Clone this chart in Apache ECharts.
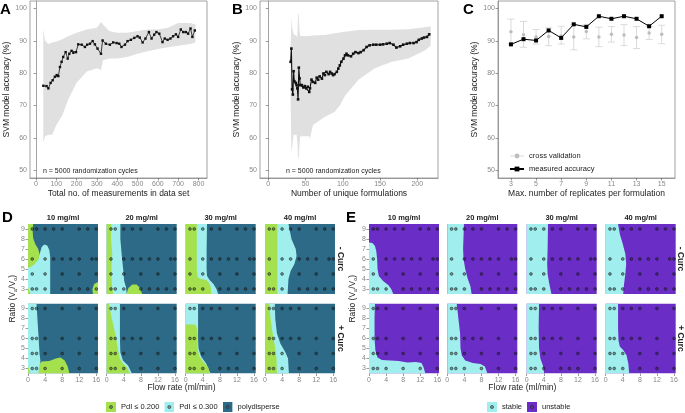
<!DOCTYPE html>
<html><head><meta charset="utf-8">
<script src="https://cdn.jsdelivr.net/npm/echarts@6/dist/echarts.min.js"></script>
<style>html,body{margin:0;padding:0;background:#fff}#c{width:685px;height:413px}</style>
</head><body><div id="c"></div>
<script>
// ---------- Panel A : accuracy vs total measurements ----------
const A_x = [36,52,61,72,82,93,102,110,118,126,134,146,156,164,175,184,197,208,225,241,252,266,279,290,303,320,328,344,364,380,397,410,421,438,451,467,484,500,511,525,539,556,569,582,593,607,623,634,648,662,675,689,700,713,725,738,749,761,770,782];
const A_y = [76.1,76,75.3,77,77.8,78.9,79.4,79.1,81.9,83.5,85,86.5,84.5,86,86.9,86.3,86.5,88.9,88.8,88.1,88.8,89.1,89.9,88.9,87.6,86,90.1,89.1,88.8,89.5,89.3,89.1,88.1,88.8,89.9,90.3,90.9,91.4,91,89.5,90.7,92.7,90.7,91.9,92.7,92.2,89.6,90.7,90.3,90.7,91.4,92,91.2,93.5,92.7,92.7,92.2,93.8,91.2,93.2];
const A_bandX  = [36,45,60,80,100,130,160,200,250,300,320,330,360,400,450,500,550,600,650,700,760,785];
const A_bandHi = [93.5,90,89,89.5,89.8,90.5,91.5,92.5,93.5,94,95.8,95,93,92.5,92.5,93,93.5,93.5,94,95.5,95.5,95];
const A_bandLo = [58.5,60.5,61,61,64,67,72,77,80.5,81.5,81,84,84.5,84.5,85,86,86.8,87.5,88,88.5,89,89.5];

// ---------- Panel B : accuracy vs unique formulations ----------
const B_x = [30,31,32,33,34,35,37,38,39,40,41,42,43,45,47,49,51,53,55,56,58,60,63,65,67,69,72,74,76,78,81,83,85,87,89,92,94,96,98,101,103,105,107,111,114,117,121,124,128,132,136,141,145,150,154,159,163,168,172,177,181,186,190,195,199,202,206,209,213,216];
const B_y = [83.5,87.6,75,73.4,80.6,77.5,77,76.3,75.3,71.9,81.7,78.4,76.3,76.3,75.6,76,75.3,75.8,74.2,75.3,78,77.3,77,78.6,78,79,78.3,79.9,79.4,80.4,79.7,80.4,79.9,79.4,79.7,80.4,81.4,82.4,83.5,84.5,85.5,86,85.5,85.2,86,86.5,86.2,86.5,87.1,88.1,88.6,88.8,88.8,88.8,88.9,89.1,89.3,88.8,87.9,88.3,88.8,89.1,89.3,89.3,89.6,90.3,90.7,91,91.2,92];
const B_bandX  = [30,31,32,34,38,39,40,41,42,43,50,55,56,57,60,76,89,96,103,121,143,166,188,210,218];
const B_bandHi = [88,97.2,94,92,91.5,91,98.5,98,93,91.5,91.5,91.5,91.6,91.5,91.6,91.8,92.3,92.6,92.8,93.3,93.4,93.4,93.6,94.2,94.5];
const B_bandLo = [72,56,57,61,61,59,53.5,54,58,60.5,60.5,60.5,59.5,61,64,66.5,68,70,73,78,81.5,83.5,84.5,87,88.5];

// ---------- Panel C : replicates ----------
const C_x        = [3,4,5,6,7,8,9,10,11,12,13,14,15];
const C_measured = [88.9,90.5,90.1,93.2,90.9,95.1,94.3,97.6,96.8,97.6,96.8,94.5,97.6];
const C_cv       = [92.8,91.9,91.2,91.3,91.5,91.2,92.9,91.2,92.0,91.8,91.0,92.4,92.0];
const C_cvLo     = [89.0,88.0,89.0,88.5,89.0,87.2,90.6,88.2,89.6,88.5,87.6,90.4,89.1];
const C_cvHi     = [96.7,96.0,93.5,94.0,94.5,95.0,95.0,94.2,94.4,95.0,94.4,94.4,94.8];
const C_ticks    = [3,5,7,9,11,13,15];

// ---------- Panels D / E ----------
const CONC = ['10 mg/ml','20 mg/ml','30 mg/ml','40 mg/ml'];
const CURC = ['- Curc','+ Curc'];
const FLOW_TICKS = [0,4,8,12,16];
const RATIO_TICKS = [3,4,5,6,7,8,9];
// measured formulations: [ratio, flow rates]
const DOTS_MINUS = [[9,[1,2,4,6,8,12,14,16]],[6,[1,4,6,8,10,12,15,16]],[4.5,[1,4,8,12,16]],[3,[1,2,4,8,10,12,14,16]]];
const DOTS_PLUS = [
  [[9,[1,2,4,8,12,16]],[6,[1,2,4,8,12,16]],[4.5,[1,2,4,8,12,16]],[3,[1,2,4,8,12,16]]],
  [[9,[1,2,4,8,12,16]],[6,[1,2,4,6,8,12,16]],[4.5,[1,2,4,8,12,16]],[3,[1,2,4,8,12,16]]],
  [[9,[1,2,4,6,8,12,16]],[6,[1,2,4,6,8,12,16]],[4.5,[1,2,4,8,12,16]],[3,[1,2,4,8,10,12,16]]],
  [[9,[1,2,4,6,8,12,16]],[6,[1,2,4,6,8,12,16]],[4.5,[1,2,4,8,12,16]],[3,[1,2,4,8,12,16]]]
];
// predicted regions (boundary outlines in flow rate / ratio units)
const D_MINUS_CYAN = [
  [[[0,2.5],[5.2,2.5],[5.2,6.2],[5.0,6.9],[4.5,7.35],[3.8,7.45],[3.2,7.2],[2.8,6.6],[2.3,6.0],[1.3,5.5],[0,5.3]]],
  [[[0,9.5],[3.2,9.5],[3.2,8],[3.5,6.5],[3.9,4.8],[4.1,3.8],[4.5,3.2],[4.7,2.5],[0,2.5]]],
  [[[0,9.5],[5.0,9.5],[4.9,7],[4.9,5],[5.0,4.3],[5.6,3.9],[6.5,3.5],[7.2,3.0],[7.6,2.5],[0,2.5]]],
  [[[0,9.5],[5.5,9.5],[6.2,8],[7.2,7],[7.4,6.3],[6.9,5.5],[6.0,4.8],[5.5,4],[5.3,2.5],[0,2.5]]]
];
const D_MINUS_GREEN = [
  [[[0,9.5],[1.2,9.5],[1.1,8.8],[1.2,8.1],[1.7,7.5],[2.4,7.0],[2.7,6.5],[2.5,6.0],[1.6,5.5],[0.6,5.2],[0,5.1]],
   [[15.2,2.5],[15.1,3.0],[15.5,3.5],[16.4,3.7],[16.4,2.5]],
   [[0,2.5],[0.6,2.5],[0,3.2]]],
  [[[0,9.5],[1.1,9.5],[1.0,8],[1.3,6.5],[1.1,5],[1.2,3.5],[1.5,2.5],[0,2.5]],
   [[4.6,2.5],[5.1,3.1],[6.0,3.45],[7.0,3.45],[7.8,3.1],[8.3,2.5]]],
  [[[0,9.5],[2.6,9.5],[2.6,5],[2.8,4.2],[3.5,4.0],[4.8,3.9],[5.5,3.6],[5.9,3.1],[6.0,2.5],[0,2.5]]],
  [[[0,9.5],[2.9,9.5],[2.9,2.5],[0,2.5]]]
];
const D_PLUS_CYAN = [
  [[[0,9.5],[2.0,9.5],[2.2,8],[2.5,6],[2.7,4.5],[2.9,3.8],[2.8,2.5],[0,2.5]]],
  [[[0,9.5],[3.1,9.5],[3.1,6],[3.2,4.6],[3.8,3.8],[5.0,3.3],[5.9,2.5],[0,2.5]]],
  [[[0,9.5],[2.9,9.5],[2.9,6],[3.0,5],[3.6,4.2],[4.8,3.5],[5.8,2.5],[0,2.5]]],
  [[[0,9.5],[2.3,9.5],[2.4,8],[2.8,6.5],[3.6,5.5],[4.8,4.6],[5.4,4.0],[5.6,2.5],[0,2.5]]]
];
const D_PLUS_GREEN = [
  [[[2.4,2.5],[2.7,3.4],[3.2,3.7],[5,3.75],[6.5,4.0],[7.6,4.1],[8.6,3.8],[9.3,3.2],[9.7,2.5]],
   [[0,2.5],[0.5,2.5],[0,3.3]]],
  [[[0,9.5],[0.5,9.5],[1.2,8],[2.0,6.5],[2.6,5],[3.0,4.1],[3.8,3.5],[4.8,3.1],[5.4,2.5],[0,2.5]]],
  [[[0,7.4],[2.2,7.4],[2.6,7.1],[2.8,6.5],[2.8,5],[3.2,4.2],[4.3,3.6],[5.3,3.1],[5.6,2.5],[0,2.5]]],
  [[[0,9.5],[1.0,9.5],[1.3,8],[1.8,6.5],[2.4,5],[2.7,4],[2.8,2.5],[0,2.5]]]
];
const E_MINUS_CYAN = [
  [[[0,7.65],[0.8,7.6],[1.4,7.3],[1.7,6.8],[1.9,6],[2.0,5],[2.3,4.3],[3.3,3.8],[4.5,3.4],[5.2,3.0],[5.7,2.5],[0,2.5]]],
  [[[0,9.5],[3.9,9.5],[3.7,7],[3.8,6],[4.2,5],[4.8,4],[5.4,3.3],[5.7,2.5],[0,2.5]]],
  [[[0,9.5],[5.0,9.5],[4.9,7],[4.8,5.5],[4.9,4.5],[5.3,3.5],[5.8,2.5],[0,2.5]]],
  [[[0,9.5],[2.9,9.5],[3.3,8.5],[4.0,7.5],[4.6,6.5],[4.8,5.5],[4.6,4.5],[4.3,3.5],[4.1,2.5],[0,2.5]]]
];
const E_PLUS_CYAN = [
  [[[0,9.5],[1.4,9.5],[1.3,8],[1.3,6],[1.5,4.8],[2.0,4.1],[3.0,3.85],[5,3.8],[7,3.75],[9,3.6],[11,3.65],[12.3,3.55],[12.8,3.1],[13.2,2.5],[0,2.5]]],
  [[[0,9.5],[2.2,9.5],[2.6,8],[3.0,6.5],[3.1,5],[3.4,4.3],[4.2,3.8],[6,3.55],[7.8,3.45],[8.8,3.2],[9.4,2.5],[0,2.5]]],
  [[[0,9.5],[2.9,9.5],[2.8,7],[2.9,5],[3.2,4],[3.8,3.3],[4.1,2.5],[0,2.5]]],
  [[[0,9.5],[2.9,9.5],[2.9,7],[3.0,5.8],[3.3,5.2],[4.2,4.8],[4.9,4.3],[5.3,3.5],[5.5,2.5],[0,2.5]]]
];

// ---------- styling / layout ----------
const FONT = '"Liberation Sans", Arial, sans-serif';
const COL = {green:'#a5e04f', cyan:'#a0eeee', dark:'#2d6a87', purple:'#6a2ec6', band:'#e0e0e0'};
const FLOW_MIN = 0, FLOW_MAX = 16.4, RATIO_MIN = 2.5, RATIO_MAX = 9.5;
const D_LEFT = [28,106.7,185.7,265], E_LEFT = [369,447.3,526.7,605.7];
const ROW_TOP = [224,303.5], PW = 70, PH = 70;

const option = {animation:false, backgroundColor:'#fff', textStyle:{fontFamily:FONT},
  grid:[], xAxis:[], yAxis:[], series:[], legend:[], graphic:[]};

function addGrid(rect, xa, ya){
  const i = option.grid.length;
  option.grid.push(Object.assign({containLabel:false}, rect));
  option.xAxis.push(Object.assign({gridIndex:i, type:'value'}, xa));
  option.yAxis.push(Object.assign({gridIndex:i, type:'value'}, ya));
  return i;
}
function ax(min, max, ticks, show, lineShow){
  return {min, max, splitLine:{show:false},
    axisLine:{show:!!lineShow, lineStyle:{color:'#8a8a8a', width:0.8}},
    axisTick:{show:show, length:2.5, lineStyle:{color:'#555', width:0.6}, customValues:ticks},
    axisLabel:{show:show, customValues:ticks, fontSize:7, color:'#888', margin:3, fontFamily:FONT}};
}
const nameStyle = {fontSize:8.5, color:'#222', fontFamily:FONT};

function polySeries(gi, polys, name, color){
  option.series.push({type:'custom', name, xAxisIndex:gi, yAxisIndex:gi, silent:true, clip:true,
    data: polys.map(()=>[0,0]),
    renderItem:(params, api)=>({type:'polygon',
      shape:{points: polys[params.dataIndex].map(p=>api.coord(p))},
      style:{fill:color}})});
}
function bandSeries(gi, bx, lo, hi){
  const outline = bx.map((x,i)=>[x,hi[i]]).concat(bx.map((x,i)=>[x,lo[i]]).reverse());
  polySeries(gi, [outline], 'band', COL.band);
}

// ---------- top row ----------
const topRect = (left,width)=>({left, top:1, width, height:177, show:true, borderColor:'#8a8a8a', borderWidth:0.8});
const yTop = Object.assign(ax(47.6,102.3,[50,60,70,80,90,100],true,true),
  {name:'SVM model accuracy (%)', nameLocation:'middle', nameGap:19, nameTextStyle:nameStyle});

const gA = addGrid(topRect(30,177),
  Object.assign(ax(-29.5,842,[0,100,200,300,400,500,600,700,800],true,true),
    {name:'Total no. of measurements in data set', nameLocation:'middle', nameGap:10, nameTextStyle:nameStyle}), yTop);
bandSeries(gA, A_bandX, A_bandLo, A_bandHi);
option.series.push({type:'line', name:'A', xAxisIndex:gA, yAxisIndex:gA, data:A_x.map((x,i)=>[x,A_y[i]]),
  symbol:'rect', symbolSize:2.4, lineStyle:{color:'#111', width:0.8}, itemStyle:{color:'#111'}});

const gB = addGrid(topRect(260,178),
  Object.assign(ax(-11.1,227.8,[0,50,100,150,200],true,true),
    {name:'Number of unique formulations', nameLocation:'middle', nameGap:10, nameTextStyle:nameStyle}), yTop);
bandSeries(gB, B_bandX, B_bandLo, B_bandHi);
option.series.push({type:'line', name:'B', xAxisIndex:gB, yAxisIndex:gB, data:B_x.map((x,i)=>[x,B_y[i]]),
  symbol:'rect', symbolSize:2.6, lineStyle:{color:'#111', width:1.1}, itemStyle:{color:'#111'}});

const gC = addGrid(topRect(498,177),
  Object.assign(ax(1.97,16.06,C_ticks,true,true),
    {name:'Max. number of replicates per formulation', nameLocation:'middle', nameGap:10, nameTextStyle:nameStyle}),
  Object.assign({}, yTop, {nameGap:18}));
option.series.push({type:'custom', name:'cv_err', xAxisIndex:gC, yAxisIndex:gC, silent:true,
  data:C_x.map((x,i)=>[x,C_cvLo[i],C_cvHi[i]]), encode:{x:0, y:[1,2]},
  renderItem:(params, api)=>{
    const x = api.value(0), a = api.coord([x, api.value(1)]), b = api.coord([x, api.value(2)]), w = 3.5;
    const st = {stroke:'#d2d2d2', lineWidth:0.8};
    return {type:'group', children:[
      {type:'line', shape:{x1:a[0],y1:a[1],x2:b[0],y2:b[1]}, style:st},
      {type:'line', shape:{x1:a[0]-w,y1:a[1],x2:a[0]+w,y2:a[1]}, style:st},
      {type:'line', shape:{x1:b[0]-w,y1:b[1],x2:b[0]+w,y2:b[1]}, style:st}]};
  }});
option.series.push({type:'line', name:'cross validation', xAxisIndex:gC, yAxisIndex:gC,
  data:C_x.map((x,i)=>[x,C_cv[i]]), symbol:'circle', symbolSize:3.5,
  lineStyle:{opacity:0}, itemStyle:{color:'#bdbdbd'}});
option.series.push({type:'line', name:'measured accuracy', xAxisIndex:gC, yAxisIndex:gC,
  data:C_x.map((x,i)=>[x,C_measured[i]]), symbol:'rect', symbolSize:4,
  lineStyle:{color:'#000', width:1}, itemStyle:{color:'#000'}});
option.legend.push({left:504, top:147, orient:'vertical', itemWidth:14, itemHeight:6, itemGap:5,
  textStyle:{fontSize:7.5, color:'#222', fontFamily:FONT}, selectedMode:false,
  data:[{name:'cross validation', lineStyle:{opacity:1, color:'#d2d2d2', width:0.8}}, {name:'measured accuracy'}]});

// ---------- facet panels ----------
function dotData(rows){
  const out = [];
  rows.forEach(([r, flows])=>flows.forEach(f=>out.push([f, r])));
  return out;
}
function facet(left, row, col, bgName, bgColor, layers, dots){
  const gi = addGrid({left, top:ROW_TOP[row], width:PW, height:PH, show:false},
    ax(FLOW_MIN, FLOW_MAX, FLOW_TICKS, row===1), ax(RATIO_MIN, RATIO_MAX, RATIO_TICKS, col===0));
  polySeries(gi, [[[FLOW_MIN,RATIO_MIN],[FLOW_MAX,RATIO_MIN],[FLOW_MAX,RATIO_MAX],[FLOW_MIN,RATIO_MAX]]], bgName, bgColor);
  layers.forEach(([polys, name, color])=>polySeries(gi, polys, name, color));
  option.series.push({type:'scatter', name:'dots', xAxisIndex:gi, yAxisIndex:gi, silent:true,
    data:dotData(dots), symbolSize:2.8,
    itemStyle:{color:'rgba(30,30,30,0.55)', borderColor:'rgba(15,15,15,0.95)', borderWidth:0.6}});
}
for (let c = 0; c < 4; c++) {
  facet(D_LEFT[c], 0, c, 'polydisperse', COL.dark,
    [[D_MINUS_CYAN[c],'PdI ≤ 0.300',COL.cyan],[D_MINUS_GREEN[c],'PdI ≤ 0.200',COL.green]], DOTS_MINUS);
  facet(D_LEFT[c], 1, c, 'polydisperse', COL.dark,
    [[D_PLUS_CYAN[c],'PdI ≤ 0.300',COL.cyan],[D_PLUS_GREEN[c],'PdI ≤ 0.200',COL.green]], DOTS_PLUS[c]);
  facet(E_LEFT[c], 0, c, 'unstable', COL.purple, [[E_MINUS_CYAN[c],'stable',COL.cyan]], DOTS_MINUS);
  facet(E_LEFT[c], 1, c, 'unstable', COL.purple, [[E_PLUS_CYAN[c],'stable',COL.cyan]], DOTS_PLUS[c]);
}
function icon(fill){
  const svg = `<svg xmlns="http://www.w3.org/2000/svg" width="20" height="20"><rect width="20" height="20" fill="${fill}"/><circle cx="10" cy="10" r="3" fill="#555" fill-opacity="0.5" stroke="#222" stroke-width="1.2"/></svg>`;
  return 'image://data:image/svg+xml;charset=utf-8,' + encodeURIComponent(svg);
}
const legText = {fontSize:7.5, color:'#222', fontFamily:FONT};
option.legend.push({left:101, top:397, itemWidth:10, itemHeight:10, itemGap:5, selectedMode:false, textStyle:legText,
  data:[{name:'PdI ≤ 0.200', icon:icon(COL.green)}, {name:'PdI ≤ 0.300', icon:icon(COL.cyan)}, {name:'polydisperse', icon:icon(COL.dark)}]});
option.legend.push({left:482, top:397, itemWidth:10, itemHeight:10, itemGap:5, selectedMode:false, textStyle:legText,
  data:[{name:'stable', icon:icon(COL.cyan)}, {name:'unstable', icon:icon(COL.purple)}]});

// ---------- text annotations ----------
const G = option.graphic;
function txt(text, x, y, size, opts){
  G.push(Object.assign({type:'text', x, y, silent:true,
    style:Object.assign({text, fontSize:size, fontFamily:FONT, fill:'#222', align:'center', verticalAlign:'middle'}, (opts||{}).style||{})},
    (opts||{}).el||{}));
}
[['A',0,10],['B',232,10],['C',463,10],['D',2,218],['E',346,218]].forEach(([t,x,y])=>
  txt(t, x, y, 15, {style:{fontWeight:'bold', fill:'#000', align:'left'}}));
txt('n = 5000 randomization cycles', 43, 171, 7, {style:{align:'left'}});
txt('n = 5000 randomization cycles', 286, 171, 7, {style:{align:'left'}});
CONC.forEach((t,c)=>{
  txt(t, D_LEFT[c]+PW/2, 218, 7.5, {style:{fontWeight:'bold'}});
  txt(t, E_LEFT[c]+PW/2, 218, 7.5, {style:{fontWeight:'bold'}});
});
CURC.forEach((t,r)=>{
  [340, 680].forEach(x=>txt(t, x, ROW_TOP[r]+PH/2, 8.5, {style:{fontWeight:'bold'}, el:{rotation:-Math.PI/2}}));
});
[[13,(D_LEFT[0]+D_LEFT[3]+PW)/2],[353,(E_LEFT[0]+E_LEFT[3]+PW)/2]].forEach(([yx, fx])=>{
  G.push({type:'text', x:yx, y:(ROW_TOP[0]+ROW_TOP[1]+PH)/2, rotation:Math.PI/2, silent:true,
    style:{text:'{n|Ratio (V}{s|a}{n|/V}{s|o}{n|)}', align:'center', verticalAlign:'middle', fontFamily:FONT,
      rich:{n:{fontSize:8.5, fill:'#222', fontFamily:FONT, lineHeight:12},
            s:{fontSize:5.5, fill:'#222', fontFamily:FONT, lineHeight:12, padding:[5,0,0,0]}}}});
  txt('Flow rate (ml/min)', fx, 388, 8.5);
});

const chart = echarts.init(document.getElementById('c'), null, {renderer:'canvas'});
chart.setOption(option);
</script>
</body></html>
